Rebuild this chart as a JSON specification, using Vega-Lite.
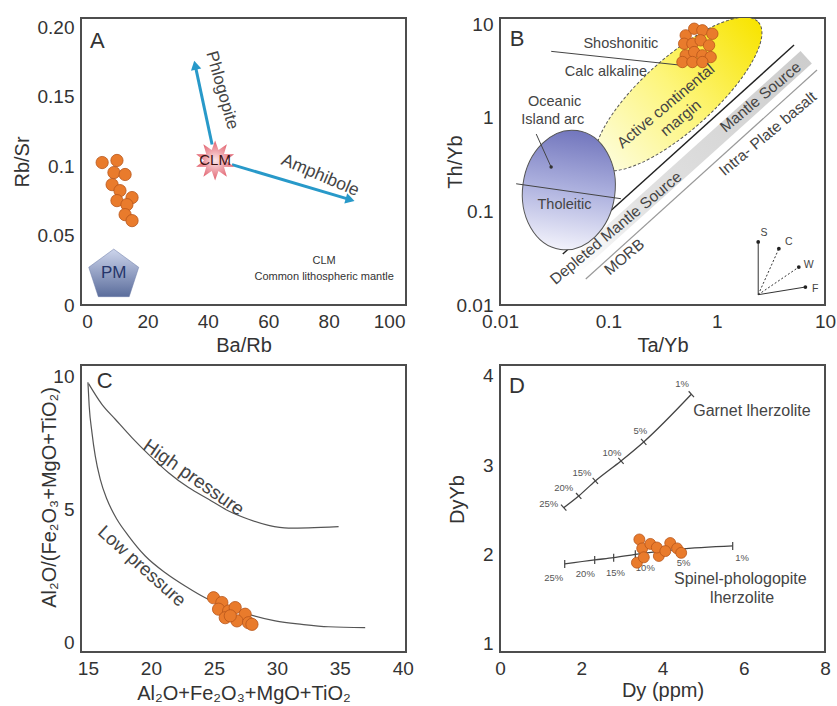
{
"$schema": "https://vega.github.io/schema/vega-lite/v6.json",
"background": "white",
"padding": {"left": 11, "top": 14, "right": 0, "bottom": 0},
"columns": 2,
"spacing": {"row": 60, "column": 94},
"bounds": "flush",
"config": {
  "font": "Liberation Sans",
  "view": {"stroke": "#4d4d4d", "strokeWidth": 2},
  "axis": {"grid": false, "domain": false, "ticks": false, "tickSize": 0, "labelFlush": false, "labelOverlap": false, "labelFontSize": 19, "labelColor": "#333333", "labelPadding": 7, "titleFontSize": 20, "titleFontWeight": "normal", "titleColor": "#333333", "titleBaseline": "middle"},
  "text": {"font": "Liberation Sans"}
},
"datasets": {
  "a_pts": [{"x":5.0,"y":0.1025},{"x":9.9,"y":0.104},{"x":8.9,"y":0.0953},{"x":12.6,"y":0.0939},{"x":8.3,"y":0.0866},{"x":10.9,"y":0.0823},{"x":14.9,"y":0.0773},{"x":9.9,"y":0.0751},{"x":13.2,"y":0.0722},{"x":12.6,"y":0.065},{"x":14.9,"y":0.0607}],
  "a_pm": [{"x":8.84,"y":0.0213,"label":"PM"}],
  "a_clm": [{"x":42.4,"y":0.104,"label":"CLM"}],
  "a_arrows": [{"name":"Phlogopite","x":41.4,"y":0.1155,"x2":35.8,"y2":0.1726},{"name":"Amphibole","x":48.0,"y":0.101,"x2":87.1,"y2":0.0758}],
  "a_phl": [{"x":44.7,"y":0.1545,"label":"Phlogopite"}],
  "a_amp": [{"x":77.2,"y":0.0931,"label":"Amphibole"}],
  "a_letter": [{"x":1.0,"y":0.190,"label":"A"}],
  "a_notes": [{"x":78.5,"y":0.0318,"label":"CLM"},{"x":78.5,"y":0.0202,"label":"Common lithospheric mantle"}],
  "b_pts": [{"x":0.518,"y":7.57},{"x":0.620,"y":8.91},{"x":0.738,"y":8.57},{"x":0.912,"y":7.87},{"x":0.501,"y":6.16},{"x":0.597,"y":6.16},{"x":0.712,"y":6.70},{"x":0.851,"y":5.92},{"x":0.518,"y":4.63},{"x":0.620,"y":5.02},{"x":0.738,"y":4.63},{"x":0.880,"y":4.44},{"x":0.483,"y":3.93},{"x":0.597,"y":3.93},{"x":0.738,"y":3.93}],
  "b_band": [{"x":0.566,"y":0.336}],
  "b_band_upper": [{"x":0.038,"y":0.035,"x2":5.18,"y2":5.97}],
  "b_band_lower": [{"x":0.0619,"y":0.01895,"x2":8.44,"y2":3.23}],
  "b_yellow": [{"x":0.444,"y":1.789}],
  "b_blue": [{"x":0.0432,"y":0.169}],
  "b_lines": [{"x":0.0297,"y":5.11,"x2":0.483,"y2":3.62},{"x":0.0141,"y":0.197,"x2":0.1306,"y2":0.1365},{"x":0.0216,"y":0.669,"x2":0.02965,"y2":0.297}],
  "b_dot": [{"x":0.02965,"y":0.297}],
  "b_vec_solid": [{"x":2.418,"y":0.01288,"x2":2.418,"y2":0.0471},{"x":2.418,"y":0.01288,"x2":6.59,"y2":0.01556}],
  "b_vec_dash": [{"x":2.418,"y":0.01288,"x2":3.75,"y2":0.0399},{"x":2.418,"y":0.01288,"x2":5.73,"y2":0.0254}],
  "b_vec_end": [{"x":2.418,"y":0.0471},{"x":3.75,"y":0.0399},{"x":5.73,"y":0.0254},{"x":6.59,"y":0.01556}],
  "b_vec_lab": [{"x":2.73,"y":0.0591,"label":"S"},{"x":4.63,"y":0.0471,"label":"C"},{"x":7.08,"y":0.0266,"label":"W"},{"x":8.14,"y":0.0147,"label":"F"}],
  "b_text": [{"x":0.1306,"y":6.16,"label":"Shoshonitic"},{"x":0.0951,"y":3.07,"label":"Calc alkaline"},{"x":0.0319,"y":1.47,"label":"Oceanic"},{"x":0.0307,"y":0.937,"label":"Island arc"},{"x":0.0394,"y":0.116,"label":"Tholeitic"}],
  "b_rot": [{"x":0.339,"y":1.332,"label":"Active continental"},{"x":0.466,"y":0.992,"label":"margin"},{"x":0.1175,"y":0.0664,"label":"Depleted Mantle Source"},{"x":2.54,"y":1.66,"label":"Mantle Source"},{"x":0.1405,"y":0.0325,"label":"MORB"},{"x":2.97,"y":0.674,"label":"Intra- Plate basalt"}],
  "b_letter": [{"x":0.01228,"y":6.97,"label":"B"}],
  "c_curves": [
    {"curve":"high","x":15.05,"y":9.75},{"curve":"high","x":16.11,"y":8.97},{"curve":"high","x":17.17,"y":8.41},{"curve":"high","x":18.49,"y":7.72},{"curve":"high","x":19.81,"y":7.09},{"curve":"high","x":21.40,"y":6.40},{"curve":"high","x":22.99,"y":5.84},{"curve":"high","x":24.58,"y":5.40},{"curve":"high","x":26.17,"y":4.96},{"curve":"high","x":27.75,"y":4.65},{"curve":"high","x":29.34,"y":4.42},{"curve":"high","x":30.93,"y":4.32},{"curve":"high","x":32.52,"y":4.33},{"curve":"high","x":34.90,"y":4.37},
    {"curve":"low","x":15.0,"y":9.8},{"curve":"low","x":15.10,"y":8.91},{"curve":"low","x":15.32,"y":7.91},{"curve":"low","x":15.58,"y":7.03},{"curve":"low","x":15.98,"y":6.15},{"curve":"low","x":16.51,"y":5.40},{"curve":"low","x":17.30,"y":4.65},{"curve":"low","x":18.23,"y":4.02},{"curve":"low","x":19.55,"y":3.27},{"curve":"low","x":21.14,"y":2.64},{"curve":"low","x":22.72,"y":2.14},{"curve":"low","x":24.31,"y":1.70},{"curve":"low","x":25.90,"y":1.39},{"curve":"low","x":27.75,"y":1.08},{"curve":"low","x":29.87,"y":0.83},{"curve":"low","x":31.98,"y":0.70},{"curve":"low","x":34.10,"y":0.61},{"curve":"low","x":37.01,"y":0.58}
  ],
  "c_pts": [{"x":24.97,"y":1.70},{"x":25.63,"y":1.52},{"x":25.37,"y":1.27},{"x":26.17,"y":1.20},{"x":26.69,"y":1.33},{"x":27.48,"y":1.08},{"x":25.90,"y":0.95},{"x":26.83,"y":0.83},{"x":27.75,"y":0.76},{"x":28.02,"y":0.70},{"x":26.30,"y":1.02}],
  "c_high": [{"x":23.4,"y":6.22,"label":"High pressure"}],
  "c_low": [{"x":19.29,"y":2.89,"label":"Low pressure"}],
  "c_letter": [{"x":15.71,"y":9.85,"label":"C"}],
  "d_lines": [
    {"series":"Garnet","pct":"25%","x":1.568,"y":2.526},{"series":"Garnet","pct":"20%","x":1.937,"y":2.657},{"series":"Garnet","pct":"15%","x":2.346,"y":2.825},{"series":"Garnet","pct":"10%","x":2.978,"y":3.049},{"series":"Garnet","pct":"5%","x":3.537,"y":3.262},{"series":"Garnet","pct":"1%","x":4.710,"y":3.796},
    {"series":"Spinel","pct":"25%","x":1.593,"y":1.896},{"series":"Spinel","pct":"20%","x":2.331,"y":1.941},{"series":"Spinel","pct":"15%","x":2.798,"y":1.966},{"series":"Spinel","pct":"10%","x":3.331,"y":2.004},{"series":"Spinel","pct":"5%","x":4.398,"y":2.060},{"series":"Spinel","pct":"1%","x":5.728,"y":2.097}
  ],
  "d_glab": [{"x":1.199,"y":2.564,"label":"25%"},{"x":1.568,"y":2.751,"label":"20%"},{"x":2.019,"y":2.919,"label":"15%"},{"x":2.757,"y":3.135,"label":"10%"},{"x":3.454,"y":3.384,"label":"5%"},{"x":4.48,"y":3.907,"label":"1%"}],
  "d_slab": [{"x":1.32,"y":1.742,"label":"25%"},{"x":2.10,"y":1.787,"label":"20%"},{"x":2.84,"y":1.798,"label":"15%"},{"x":3.577,"y":1.854,"label":"10%"},{"x":4.52,"y":1.91,"label":"5%"},{"x":5.96,"y":1.966,"label":"1%"}],
  "d_text": [{"x":6.20,"y":3.61,"label":"Garnet lherzolite"},{"x":5.915,"y":1.724,"label":"Spinel-phologopite"},{"x":5.96,"y":1.52,"label":"lherzolite"}],
  "d_pts": [{"x":3.43,"y":2.17},{"x":3.50,"y":2.07},{"x":3.70,"y":2.12},{"x":3.91,"y":1.985},{"x":3.86,"y":2.08},{"x":3.37,"y":1.91},{"x":4.19,"y":2.13},{"x":4.36,"y":2.07},{"x":4.46,"y":2.02},{"x":4.07,"y":2.04},{"x":3.54,"y":1.97}],
  "d_letter": [{"x":0.22,"y":3.89,"label":"D"}]
},
"concat": [
{
  "width": 325, "height": 287,
  "layer": [
    {"data": {"name": "a_pm"},
     "mark": {"type": "point", "shape": "M 0 -1 L 0.951 -0.309 L 0.588 0.809 L -0.588 0.809 L -0.951 -0.309 Z", "size": 2766, "filled": true, "opacity": 1, "fill": {"gradient": "linear", "x1": 0, "y1": 0, "x2": 0, "y2": 1, "stops": [{"offset": 0, "color": "#cdd5ec"}, {"offset": 1, "color": "#5b6d9c"}]}, "stroke": "#6a7aa6", "strokeWidth": 0.5},
     "encoding": {
       "x": {"field": "x", "type": "quantitative", "scale": {"domain": [-2, 105.6], "nice": false, "zero": false}, "axis": {"values": [0, 20, 40, 60, 80, 100], "title": "Ba/Rb", "titleX": 162.5, "titleY": 40}},
       "y": {"field": "y", "type": "quantitative", "scale": {"domain": [0, 0.2065], "nice": false}, "axis": {"values": [0, 0.05, 0.1, 0.15, 0.2], "labelExpr": "datum.value == 0 ? '0' : datum.value == 0.1 ? '0.1' : datum.value == 0.2 ? '0.20' : format(datum.value, '.2f')", "title": "Rb/Sr", "titleX": -59, "titleY": 143.5}}
     }},
    {"data": {"name": "a_pm"}, "mark": {"type": "text", "fontSize": 17, "color": "#25356a", "dy": -2},
     "encoding": {"x": {"field": "x", "type": "quantitative"}, "y": {"field": "y", "type": "quantitative"}, "text": {"field": "label"}}},
    {"data": {"name": "a_arrows"}, "mark": {"type": "rule", "color": "#2899c9", "strokeWidth": 3},
     "encoding": {"x": {"field": "x", "type": "quantitative"}, "y": {"field": "y", "type": "quantitative"}, "x2": {"field": "x2"}, "y2": {"field": "y2"}}},
    {"data": {"name": "a_arrows"}, "transform": [{"filter": "datum.name == 'Phlogopite'"}],
     "mark": {"type": "point", "shape": "triangle-up", "size": 110, "filled": true, "opacity": 1, "color": "#2899c9", "angle": 348},
     "encoding": {"x": {"field": "x2", "type": "quantitative"}, "y": {"field": "y2", "type": "quantitative"}}},
    {"data": {"name": "a_arrows"}, "transform": [{"filter": "datum.name == 'Amphibole'"}],
     "mark": {"type": "point", "shape": "triangle-up", "size": 110, "filled": true, "opacity": 1, "color": "#2899c9", "angle": 106},
     "encoding": {"x": {"field": "x2", "type": "quantitative"}, "y": {"field": "y2", "type": "quantitative"}}},
    {"data": {"name": "a_clm"},
     "mark": {"type": "point", "shape": "M 0 -1 L 0.17 -0.523 L 0.588 -0.809 L 0.445 -0.323 L 0.951 -0.309 L 0.55 0 L 0.951 0.309 L 0.445 0.323 L 0.588 0.809 L 0.17 0.523 L 0 1 L -0.17 0.523 L -0.588 0.809 L -0.445 0.323 L -0.951 0.309 L -0.55 0 L -0.951 -0.309 L -0.445 -0.323 L -0.588 -0.809 L -0.17 -0.523 Z", "size": 1600, "filled": true, "opacity": 1, "fill": {"gradient": "radial", "x1": 0.5, "y1": 0.5, "r1": 0, "x2": 0.5, "y2": 0.5, "r2": 0.5, "stops": [{"offset": 0, "color": "#fbe6e8"}, {"offset": 1, "color": "#e2616e"}]}},
     "encoding": {"x": {"field": "x", "type": "quantitative"}, "y": {"field": "y", "type": "quantitative"}}},
    {"data": {"name": "a_clm"}, "mark": {"type": "text", "fontSize": 15, "color": "#3b1212"},
     "encoding": {"x": {"field": "x", "type": "quantitative"}, "y": {"field": "y", "type": "quantitative"}, "text": {"field": "label"}}},
    {"data": {"name": "a_phl"}, "mark": {"type": "text", "fontSize": 17, "color": "#444444", "angle": 74},
     "encoding": {"x": {"field": "x", "type": "quantitative"}, "y": {"field": "y", "type": "quantitative"}, "text": {"field": "label"}}},
    {"data": {"name": "a_amp"}, "mark": {"type": "text", "fontSize": 17.5, "color": "#444444", "angle": 23},
     "encoding": {"x": {"field": "x", "type": "quantitative"}, "y": {"field": "y", "type": "quantitative"}, "text": {"field": "label"}}},
    {"data": {"name": "a_pts"}, "mark": {"type": "circle", "size": 150, "opacity": 1, "fill": "#e97b2c", "stroke": "#b7561a", "strokeWidth": 0.8},
     "encoding": {"x": {"field": "x", "type": "quantitative"}, "y": {"field": "y", "type": "quantitative"}}},
    {"data": {"name": "a_letter"}, "mark": {"type": "text", "fontSize": 22, "color": "#333333", "align": "left"},
     "encoding": {"x": {"field": "x", "type": "quantitative"}, "y": {"field": "y", "type": "quantitative"}, "text": {"field": "label"}}},
    {"data": {"name": "a_notes"}, "mark": {"type": "text", "fontSize": 11, "color": "#333333"},
     "encoding": {"x": {"field": "x", "type": "quantitative"}, "y": {"field": "y", "type": "quantitative"}, "text": {"field": "label"}}}
  ]
},
{
  "width": 325, "height": 287,
  "layer": [
    {"data": {"name": "b_band"},
     "mark": {"type": "point", "clip": true, "shape": "M -1 -0.054 L 1 -0.054 L 1 0.054 L -1 0.054 Z", "size": 97969, "angle": -42, "filled": true, "opacity": 1, "fill": {"gradient": "linear", "x1": 0, "y1": 0, "x2": 1, "y2": 0, "stops": [{"offset": 0, "color": "#ffffff"}, {"offset": 0.3, "color": "#e2e2e2"}, {"offset": 1, "color": "#cdcdcd"}]}},
     "encoding": {
       "x": {"field": "x", "type": "quantitative", "scale": {"type": "log", "domain": [0.01, 10], "nice": false}, "axis": {"values": [0.01, 0.1, 1, 10], "format": "~g", "title": "Ta/Yb", "titleX": 162.5, "titleY": 40}},
       "y": {"field": "y", "type": "quantitative", "scale": {"type": "log", "domain": [0.01, 11.6], "nice": false}, "axis": {"values": [0.01, 0.1, 1, 10], "format": "~g", "title": "Th/Yb", "titleX": -45, "titleY": 143.5}}
     }},
    {"data": {"name": "b_band_lower"}, "mark": {"type": "rule", "color": "#9a9a9a", "strokeWidth": 1.2, "clip": true},
     "encoding": {"x": {"field": "x", "type": "quantitative"}, "y": {"field": "y", "type": "quantitative"}, "x2": {"field": "x2"}, "y2": {"field": "y2"}}},
    {"data": {"name": "b_band_upper"}, "mark": {"type": "rule", "color": "#222222", "strokeWidth": 1.4, "clip": true},
     "encoding": {"x": {"field": "x", "type": "quantitative"}, "y": {"field": "y", "type": "quantitative"}, "x2": {"field": "x2"}, "y2": {"field": "y2"}}},
    {"data": {"name": "b_yellow"},
     "mark": {"type": "point", "clip": true, "shape": "M 1 0 C 1 0.185 0.552 0.335 0 0.335 C -0.552 0.335 -1 0.185 -1 0 C -1 -0.185 -0.552 -0.335 0 -0.335 C 0.552 -0.335 1 -0.185 1 0 Z", "size": 46225, "angle": -42, "filled": true, "opacity": 1, "fill": {"gradient": "linear", "x1": 0, "y1": 0, "x2": 1, "y2": 0, "stops": [{"offset": 0, "color": "#fdfde0"}, {"offset": 0.5, "color": "#fdf57a"}, {"offset": 1, "color": "#f8e400"}]}, "stroke": "#555555", "strokeWidth": 1, "strokeDash": [3, 2]},
     "encoding": {"x": {"field": "x", "type": "quantitative"}, "y": {"field": "y", "type": "quantitative"}}},
    {"data": {"name": "b_blue"},
     "mark": {"type": "point", "clip": true, "shape": "M 0.77 0 C 0.77 0.552 0.425 1 0 1 C -0.425 1 -0.77 0.552 -0.77 0 C -0.77 -0.552 -0.425 -1 0 -1 C 0.425 -1 0.77 -0.552 0.77 0 Z", "size": 14400, "angle": 8, "filled": true, "opacity": 1, "fill": {"gradient": "linear", "x1": 0, "y1": 0, "x2": 0, "y2": 1, "stops": [{"offset": 0, "color": "#7276bd"}, {"offset": 0.5, "color": "#aeb2df"}, {"offset": 1, "color": "#f2f2fb"}]}, "stroke": "#555555", "strokeWidth": 1},
     "encoding": {"x": {"field": "x", "type": "quantitative"}, "y": {"field": "y", "type": "quantitative"}}},
    {"data": {"name": "b_lines"}, "mark": {"type": "rule", "color": "#444444", "strokeWidth": 1},
     "encoding": {"x": {"field": "x", "type": "quantitative"}, "y": {"field": "y", "type": "quantitative"}, "x2": {"field": "x2"}, "y2": {"field": "y2"}}},
    {"data": {"name": "b_dot"}, "mark": {"type": "circle", "size": 12, "opacity": 1, "color": "#333333"},
     "encoding": {"x": {"field": "x", "type": "quantitative"}, "y": {"field": "y", "type": "quantitative"}}},
    {"data": {"name": "b_vec_solid"}, "mark": {"type": "rule", "color": "#333333", "strokeWidth": 1},
     "encoding": {"x": {"field": "x", "type": "quantitative"}, "y": {"field": "y", "type": "quantitative"}, "x2": {"field": "x2"}, "y2": {"field": "y2"}}},
    {"data": {"name": "b_vec_dash"}, "mark": {"type": "rule", "color": "#333333", "strokeWidth": 1, "strokeDash": [2, 2]},
     "encoding": {"x": {"field": "x", "type": "quantitative"}, "y": {"field": "y", "type": "quantitative"}, "x2": {"field": "x2"}, "y2": {"field": "y2"}}},
    {"data": {"name": "b_vec_end"}, "mark": {"type": "circle", "size": 14, "opacity": 1, "color": "#222222"},
     "encoding": {"x": {"field": "x", "type": "quantitative"}, "y": {"field": "y", "type": "quantitative"}}},
    {"data": {"name": "b_vec_lab"}, "mark": {"type": "text", "fontSize": 10.5, "color": "#444444"},
     "encoding": {"x": {"field": "x", "type": "quantitative"}, "y": {"field": "y", "type": "quantitative"}, "text": {"field": "label"}}},
    {"data": {"name": "b_pts"}, "mark": {"type": "circle", "size": 130, "opacity": 1, "fill": "#e97b2c", "stroke": "#b7561a", "strokeWidth": 0.8},
     "encoding": {"x": {"field": "x", "type": "quantitative"}, "y": {"field": "y", "type": "quantitative"}}},
    {"data": {"name": "b_text"}, "mark": {"type": "text", "fontSize": 14.5, "color": "#444444"},
     "encoding": {"x": {"field": "x", "type": "quantitative"}, "y": {"field": "y", "type": "quantitative"}, "text": {"field": "label"}}},
    {"data": {"name": "b_rot"}, "mark": {"type": "text", "fontSize": 15.5, "color": "#444444", "angle": -40},
     "encoding": {"x": {"field": "x", "type": "quantitative"}, "y": {"field": "y", "type": "quantitative"}, "text": {"field": "label"}}},
    {"data": {"name": "b_letter"}, "mark": {"type": "text", "fontSize": 22, "color": "#333333", "align": "left"},
     "encoding": {"x": {"field": "x", "type": "quantitative"}, "y": {"field": "y", "type": "quantitative"}, "text": {"field": "label"}}}
  ]
},
{
  "width": 325, "height": 287,
  "layer": [
    {"data": {"name": "c_curves"}, "mark": {"type": "line", "color": "#555555", "strokeWidth": 1.2, "interpolate": "monotone"},
     "encoding": {
       "x": {"field": "x", "type": "quantitative", "scale": {"domain": [14.45, 40.25], "nice": false, "zero": false}, "axis": {"values": [15, 20, 25, 30, 35, 40], "title": "Al₂O+Fe₂O₃+MgO+TiO₂", "titleX": 162.5, "titleY": 41}},
       "y": {"field": "y", "type": "quantitative", "scale": {"domain": [-0.34, 10.45], "nice": false, "zero": false}, "axis": {"values": [0, 5, 10], "title": "Al₂O/(Fe₂O₃+MgO+TiO₂)", "titleX": -32, "titleY": 132}},
       "detail": {"field": "curve"}
     }},
    {"data": {"name": "c_pts"}, "mark": {"type": "circle", "size": 150, "opacity": 1, "fill": "#e97b2c", "stroke": "#b7561a", "strokeWidth": 0.8},
     "encoding": {"x": {"field": "x", "type": "quantitative"}, "y": {"field": "y", "type": "quantitative"}}},
    {"data": {"name": "c_high"}, "mark": {"type": "text", "fontSize": 19, "color": "#444444", "angle": 35},
     "encoding": {"x": {"field": "x", "type": "quantitative"}, "y": {"field": "y", "type": "quantitative"}, "text": {"field": "label"}}},
    {"data": {"name": "c_low"}, "mark": {"type": "text", "fontSize": 18.5, "color": "#444444", "angle": 42},
     "encoding": {"x": {"field": "x", "type": "quantitative"}, "y": {"field": "y", "type": "quantitative"}, "text": {"field": "label"}}},
    {"data": {"name": "c_letter"}, "mark": {"type": "text", "fontSize": 22, "color": "#333333", "align": "left"},
     "encoding": {"x": {"field": "x", "type": "quantitative"}, "y": {"field": "y", "type": "quantitative"}, "text": {"field": "label"}}}
  ]
},
{
  "width": 325, "height": 287,
  "layer": [
    {"data": {"name": "d_lines"}, "mark": {"type": "line", "color": "#444444", "strokeWidth": 1.3, "interpolate": "monotone"},
     "encoding": {
       "x": {"field": "x", "type": "quantitative", "scale": {"domain": [0, 8], "nice": false}, "axis": {"values": [0, 2, 4, 6, 8], "title": "Dy (ppm)", "titleX": 162.5, "titleY": 38}},
       "y": {"field": "y", "type": "quantitative", "scale": {"domain": [0.91, 4.123], "nice": false, "zero": false}, "axis": {"values": [1, 2, 3, 4], "format": "d", "title": "DyYb", "titleX": -43, "titleY": 134}},
       "detail": {"field": "series"}
     }},
    {"data": {"name": "d_lines"}, "transform": [{"filter": "datum.series == 'Garnet'"}],
     "mark": {"type": "point", "shape": "M 0 -1 L 0 1", "size": 64, "filled": false, "opacity": 1, "stroke": "#444444", "strokeWidth": 1.2, "angle": -42},
     "encoding": {"x": {"field": "x", "type": "quantitative"}, "y": {"field": "y", "type": "quantitative"}}},
    {"data": {"name": "d_lines"}, "transform": [{"filter": "datum.series == 'Spinel'"}],
     "mark": {"type": "point", "shape": "M 0 -1 L 0 1", "size": 64, "filled": false, "opacity": 1, "stroke": "#444444", "strokeWidth": 1.2, "angle": 0},
     "encoding": {"x": {"field": "x", "type": "quantitative"}, "y": {"field": "y", "type": "quantitative"}}},
    {"data": {"name": "d_glab"}, "mark": {"type": "text", "fontSize": 9.5, "color": "#555555"},
     "encoding": {"x": {"field": "x", "type": "quantitative"}, "y": {"field": "y", "type": "quantitative"}, "text": {"field": "label"}}},
    {"data": {"name": "d_slab"}, "mark": {"type": "text", "fontSize": 9.5, "color": "#555555"},
     "encoding": {"x": {"field": "x", "type": "quantitative"}, "y": {"field": "y", "type": "quantitative"}, "text": {"field": "label"}}},
    {"data": {"name": "d_pts"}, "mark": {"type": "circle", "size": 120, "opacity": 1, "fill": "#e97b2c", "stroke": "#b7561a", "strokeWidth": 0.8},
     "encoding": {"x": {"field": "x", "type": "quantitative"}, "y": {"field": "y", "type": "quantitative"}}},
    {"data": {"name": "d_text"}, "mark": {"type": "text", "fontSize": 16, "color": "#444444"},
     "encoding": {"x": {"field": "x", "type": "quantitative"}, "y": {"field": "y", "type": "quantitative"}, "text": {"field": "label"}}},
    {"data": {"name": "d_letter"}, "mark": {"type": "text", "fontSize": 22, "color": "#333333", "align": "left"},
     "encoding": {"x": {"field": "x", "type": "quantitative"}, "y": {"field": "y", "type": "quantitative"}, "text": {"field": "label"}}}
  ]
}
]
}
